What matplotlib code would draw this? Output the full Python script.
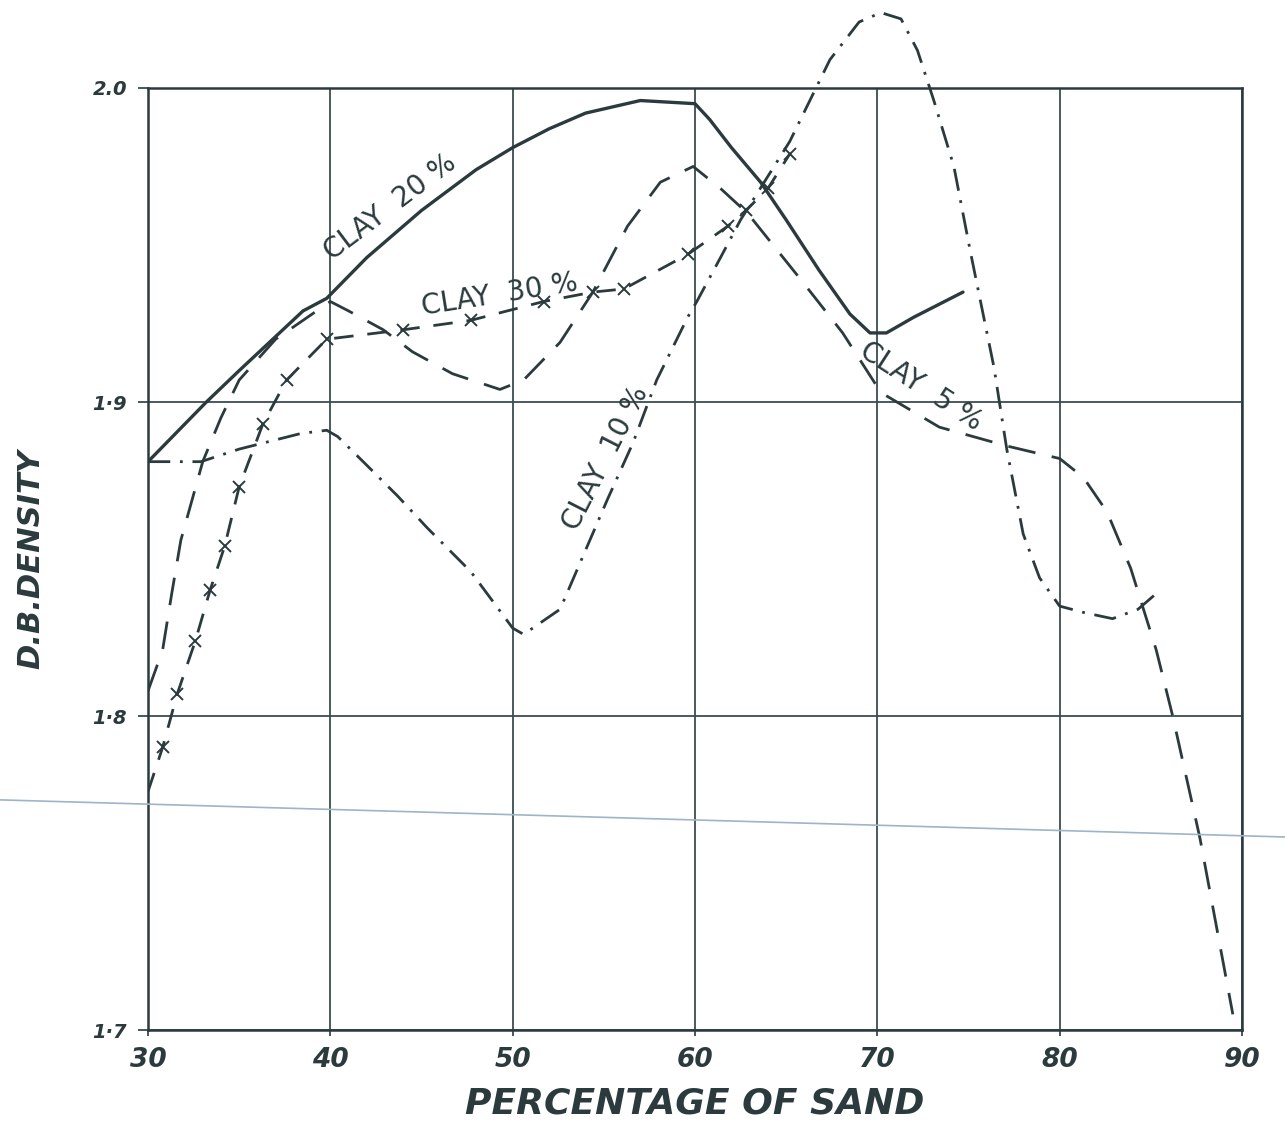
"""Dry bulk density against percentage of sand for several clay contents."""

import matplotlib
matplotlib.use('Agg')
from matplotlib import pyplot
from matplotlib.lines import Line2D

# Values.
clay20_x = [30, 33.2, 35, 38.5, 39.8, 42, 45, 48, 50, 52, 54, 57, 60, 60.8,
            62, 63.6, 65, 66.8, 68.5, 69.6, 70.5, 72, 74.7]
clay20_y = [1.881, 1.900, 1.910, 1.929, 1.933, 1.946, 1.961, 1.974, 1.981,
            1.987, 1.992, 1.996, 1.995, 1.990, 1.981, 1.970, 1.958, 1.942,
            1.928, 1.922, 1.922, 1.927, 1.935]

clay30_x = [30, 30.8, 31.6, 32.6, 33.4, 34.2, 35.0, 36.3, 37.6, 39.8, 44.0,
            47.7, 51.7, 54.4, 56.1, 59.6, 61.8, 62.8, 64.0, 65.2]
clay30_y = [1.776, 1.790, 1.807, 1.824, 1.840, 1.854, 1.873, 1.893, 1.907,
            1.920, 1.923, 1.926, 1.932, 1.935, 1.936, 1.947, 1.956, 1.961,
            1.968, 1.979]

clay5_x = [30, 30.8, 31.3, 31.8, 33.0, 34.0, 35.0, 37.0, 40.0, 41.0, 42.9,
           44.5, 46.7, 49.3, 50.6, 52.6, 54.4, 56.3, 58.1, 59.9, 61.4, 62.9,
           65.8, 68.1, 70.2, 73.4, 77.1, 80.0, 81.3, 82.6, 83.9, 85.3, 86.2,
           87.7, 89.5]
clay5_y = [1.808, 1.821, 1.839, 1.856, 1.881, 1.895, 1.907, 1.920, 1.932,
           1.929, 1.923, 1.916, 1.909, 1.904, 1.907, 1.919, 1.935, 1.956,
           1.970, 1.975, 1.968, 1.960, 1.939, 1.922, 1.903, 1.892, 1.886,
           1.882, 1.876, 1.865, 1.847, 1.821, 1.800, 1.761, 1.705]

clay10_x = [30, 32.9, 35.0, 38.4, 39.8, 40.4, 41.8, 43.7, 45.3, 47.7, 50.0,
            50.6, 52.6, 55.2, 56.6, 57.9, 59.6, 60.1, 61.4, 62.5, 65.2, 67.4,
            69.0, 70.2, 71.3, 72.2, 73.1, 74.2, 75.1, 76.4, 77.1, 78.0, 78.9,
            80.0, 81.3, 82.9, 84.3, 85.3]
clay10_y = [1.881, 1.881, 1.885, 1.890, 1.891, 1.889, 1.881, 1.870, 1.860,
            1.846, 1.828, 1.826, 1.834, 1.869, 1.887, 1.907, 1.927, 1.932,
            1.946, 1.958, 1.983, 2.009, 2.021, 2.024, 2.022, 2.012, 1.996,
            1.975, 1.948, 1.911, 1.885, 1.858, 1.844, 1.835, 1.833, 1.831,
            1.834, 1.839]

x_ticks = [30, 40, 50, 60, 70, 80, 90]
y_ticks = [1.7, 1.8, 1.9, 2.0]
y_tick_labels = ['1·7', '1·8', '1·9', '2.0']

ink = '#2b3b3d'
hand = dict(family='DejaVu Sans', weight='bold', style='oblique', color=ink)

fig = pyplot.figure(figsize=(12.85, 11.25), dpi=100)
ax = fig.add_axes([0.1152, 0.0844, 0.8513, 0.8374])

ax.set_xlim(30, 90)
ax.set_ylim(1.7, 2.0)
ax.set_xticks(x_ticks)
ax.set_yticks(y_ticks)
ax.set_xticklabels([str(t) for t in x_ticks], fontsize=19, **hand)
ax.set_yticklabels(y_tick_labels, fontsize=14, **hand)
ax.tick_params(axis='y', length=7, width=1.2, color=ink, pad=8)
ax.tick_params(axis='x', length=4, width=1.2, color=ink, pad=8)
ax.grid(True, color='#3c4d4f', linewidth=1.3)
for spine in ax.spines.values():
    spine.set_color(ink)
    spine.set_linewidth(1.8)

lw = 2.0
ax.plot(clay20_x, clay20_y, color=ink, linewidth=2.4, solid_capstyle='round')
ax.plot(clay30_x, clay30_y, color=ink, linewidth=lw,
        linestyle=(0, (7, 5)), marker='x', markersize=8,
        markeredgewidth=1.4, markevery=list(range(1, len(clay30_x))))
ax.plot(clay5_x, clay5_y, color=ink, linewidth=lw, linestyle=(0, (10, 6)))
ax.plot(clay10_x, clay10_y, color=ink, linewidth=lw,
        linestyle=(0, (8, 3.5, 1, 3.5)), clip_on=False)

# Curve labels written along the lines.
label_font = dict(fontsize=20, ha='center', va='center',
                  family='DejaVu Sans', color=ink)
ax.text(43.3, 1.962, 'CLAY  20 %', rotation=37, **label_font)
ax.text(49.3, 1.934, 'CLAY  30 %', rotation=9, **label_font)
ax.text(55.1, 1.882, 'CLAY  10 %', rotation=63, **label_font)
ax.text(72.4, 1.905, 'CLAY  5 %', rotation=-33, **label_font)

ax.set_xlabel('PERCENTAGE OF SAND', fontsize=26, labelpad=10, **hand)
ax.set_ylabel('D.B.DENSITY', fontsize=22, labelpad=34, **hand)

# Faint scanner streak crossing the sheet.
fig.add_artist(Line2D([0.0, 1.0], [0.289, 0.256], transform=fig.transFigure,
                      color='#9db4c9', linewidth=1.2))

fig.savefig('out.png', dpi=100)
